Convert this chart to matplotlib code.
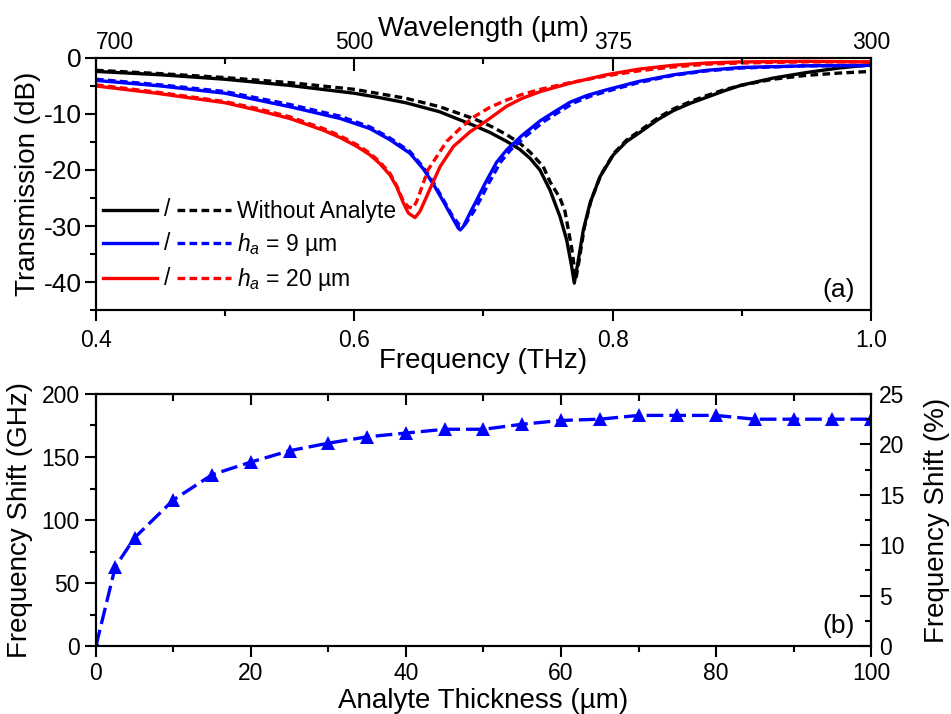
import matplotlib
matplotlib.use('Agg')
import matplotlib.pyplot as plt
from matplotlib.lines import Line2D
from matplotlib.text import Text
from matplotlib.ticker import MultipleLocator

plt.rcParams['font.family'] = ['Liberation Sans', 'DejaVu Sans']
plt.rcParams['mathtext.fontset'] = 'custom'
plt.rcParams['mathtext.rm'] = 'Liberation Sans'
plt.rcParams['mathtext.it'] = 'Liberation Sans:italic'
plt.rcParams['axes.unicode_minus'] = False

# ---- (a) transmission spectra: solid = simulation, dashed = model ----
f_ref = [0.40, 0.45, 0.50, 0.55, 0.60, 0.62, 0.64, 0.666, 0.692, 0.705, 0.718, 0.728, 0.736,
         0.7437, 0.7515, 0.7592, 0.7644, 0.7683, 0.7703, 0.7734, 0.7773, 0.7825, 0.7902, 0.8005,
         0.8108, 0.821, 0.835, 0.847, 0.86, 0.873, 0.886, 0.899, 0.924, 0.95, 0.975, 1.00]
t_ref = [-2.4, -3.0, -3.8, -4.9, -6.3, -7.1, -8.0, -9.6, -12.0, -13.3, -14.9, -16.3, -17.9,
         -20.0, -23.6, -28.3, -32.5, -37.3, -40.2, -36.1, -30.7, -25.9, -21.2, -17.3,
         -14.9, -13.3, -11.0, -9.4, -8.1, -7.0, -5.9, -4.9, -3.6, -2.6, -1.8, -1.2]
f_ref_d = [0.40, 0.45, 0.50, 0.55, 0.60, 0.62, 0.64, 0.666, 0.692, 0.705, 0.718, 0.728, 0.736,
           0.7463, 0.7515, 0.7592, 0.7631, 0.7657, 0.7683, 0.7715, 0.7745, 0.778, 0.7832, 0.791,
           0.801, 0.811, 0.821, 0.835, 0.847, 0.86, 0.873, 0.886, 0.899, 0.924, 0.95, 0.975, 1.00]
t_ref_d = [-2.2, -2.8, -3.5, -4.4, -5.6, -6.4, -7.2, -8.7, -10.8, -12.1, -13.7, -15.2, -16.8,
           -19.4, -22.1, -25.0, -27.4, -30.7, -34.0, -39.5, -35.5, -30.3, -25.5, -20.8,
           -17.0, -14.6, -13.0, -10.7, -9.1, -7.8, -6.7, -5.7, -4.9, -3.8, -3.1, -2.7, -2.4]

f_9 = [0.40, 0.45, 0.50, 0.55, 0.589, 0.612, 0.6276, 0.643, 0.6534, 0.6611, 0.6689, 0.6754,
       0.6805, 0.682, 0.6844, 0.6895, 0.6947, 0.7012, 0.7102, 0.718, 0.73, 0.744, 0.755, 0.767,
       0.78, 0.795, 0.82, 0.847, 0.873, 0.899, 0.95, 1.00]
t_9 = [-4.0, -5.0, -6.3, -8.7, -10.8, -12.6, -14.6, -17.0, -19.8, -22.5, -25.6, -28.3,
       -30.4, -30.7, -30.1, -27.7, -25.4, -22.4, -18.6, -16.4, -13.8, -11.2, -9.6, -7.9,
       -6.7, -5.7, -4.2, -3.0, -2.2, -1.7, -1.4, -1.3]
f_9_d = [0.40, 0.45, 0.50, 0.55, 0.589, 0.612, 0.6276, 0.643, 0.6534, 0.6611, 0.6689, 0.6754,
         0.6815, 0.6855, 0.6925, 0.6977, 0.7042, 0.7132, 0.721, 0.733, 0.747, 0.758, 0.770,
         0.783, 0.798, 0.82, 0.847, 0.873, 0.899, 0.95, 1.00]
t_9_d = [-3.8, -4.8, -6.0, -8.3, -10.4, -12.3, -14.3, -16.7, -19.5, -22.2, -25.3, -28.0,
         -29.9, -29.8, -27.4, -25.2, -22.3, -18.6, -16.4, -13.9, -11.3, -9.7, -8.0,
         -6.8, -5.8, -4.4, -3.1, -2.3, -1.8, -1.4, -1.4]

f_20 = [0.40, 0.447, 0.50, 0.5244, 0.55, 0.576, 0.589, 0.602, 0.6121, 0.6199, 0.6276, 0.6328,
        0.638, 0.6419, 0.647, 0.6508, 0.6547, 0.6599, 0.6664, 0.6767, 0.6895, 0.7012, 0.718,
        0.73, 0.744, 0.767, 0.795, 0.82, 0.847, 0.873, 0.899, 0.95, 1.00]
t_20 = [-5.0, -6.3, -8.0, -9.3, -10.8, -12.9, -14.2, -15.8, -17.3, -18.9, -20.9, -23.0,
        -25.9, -27.7, -28.5, -27.4, -25.4, -22.7, -19.4, -15.8, -13.2, -11.4, -8.6,
        -7.2, -6.0, -4.5, -3.0, -2.0, -1.3, -0.9, -0.7, -0.6, -0.7]
f_20_d = [0.40, 0.447, 0.50, 0.5244, 0.55, 0.576, 0.589, 0.602, 0.6121, 0.6199, 0.6276, 0.6328,
          0.638, 0.6419, 0.6455, 0.6483, 0.651, 0.657, 0.6638, 0.6715, 0.6818, 0.692, 0.705,
          0.718, 0.73, 0.744, 0.767, 0.795, 0.82, 0.847, 0.873, 0.899, 0.95, 1.00]
t_20_d = [-4.8, -6.1, -7.8, -9.0, -10.5, -12.6, -13.9, -15.5, -17.0, -18.6, -20.6, -22.8,
          -25.6, -26.6, -26.8, -25.6, -23.9, -20.0, -17.6, -14.9, -12.6, -10.6, -8.8,
          -7.5, -6.5, -5.6, -4.4, -3.2, -2.3, -1.6, -1.1, -0.9, -0.7, -0.7]

wl_ticks = [0.4, 0.6, 0.8, 1.0]
wl_labels = ['700', '500', '375', '300']

# ---- (b) resonance shift vs analyte thickness ----
thickness = [0, 2.5, 5, 10, 15, 20, 25, 30, 35, 40, 45, 50, 55, 60, 65, 70, 75, 80, 85, 90, 95, 100]
shift_ghz = [0, 63, 86, 116, 136, 146, 155, 161, 166, 169, 172, 172, 176, 179, 180, 183, 183, 183,
             180, 180, 180, 180]
f0_ghz = 800.0  # 200 GHz <-> 25 %

LW = 2.4
DASH = (2.3, 1.3)
LBL = 20
TCK = 16.5


class SolidSlashDashed:
    """legend key: solid line / dashed line"""
    def legend_artist(self, legend, orig_handle, fontsize, handlebox):
        color = orig_handle.get_color()
        x0, y0 = handlebox.xdescent, handlebox.ydescent
        w, h = handlebox.width, handlebox.height
        ym = y0 + h / 2
        solid = Line2D([x0, x0 + 0.42 * w], [ym, ym], color=color, lw=LW)
        dashed = Line2D([x0 + 0.58 * w, x0 + w], [ym, ym], color=color, lw=LW,
                        linestyle=(0, DASH))
        slash = Text(x0 + 0.5 * w, ym, '/', fontsize=fontsize, ha='center', va='center')
        for a in (solid, slash, dashed):
            handlebox.add_artist(a)
        return solid


fig = plt.figure(figsize=(9.51, 7.14), dpi=100)
ax1 = fig.add_axes([0.1009, 0.5658, 0.815, 0.3530])
ax2 = fig.add_axes([0.1009, 0.0952, 0.815, 0.3530])

series = [(f_ref, t_ref, f_ref_d, t_ref_d, 'black', 'Without Analyte'),
          (f_9, t_9, f_9_d, t_9_d, 'blue', r'$h_a$ = 9 µm'),
          (f_20, t_20, f_20_d, t_20_d, 'red', r'$h_a$ = 20 µm')]
handles = []
for fs, ts, fd, td, c, lab in series:
    h, = ax1.plot(fs, ts, color=c, lw=LW, label=lab, solid_joinstyle='round')
    ax1.plot(fd, td, color=c, lw=LW, linestyle=(0, DASH))
    handles.append(h)

ax1.set_xlim(0.4, 1.0)
ax1.set_ylim(-45, 0)
ax1.set_xticks([0.4, 0.6, 0.8, 1.0])
ax1.xaxis.set_minor_locator(MultipleLocator(0.1))
ax1.set_yticks([0, -10, -20, -30, -40])
ax1.yaxis.set_minor_locator(MultipleLocator(5))
ax1.tick_params(which='both', direction='out', width=1.5, top=False, right=False)
ax1.tick_params(which='major', length=8)
ax1.tick_params(which='minor', length=4)
ax1.tick_params(axis='x', labelsize=TCK, pad=6)
ax1.tick_params(axis='y', labelsize=19, pad=2)
ax1.set_xlabel('Frequency (THz)', fontsize=LBL, labelpad=-3)
ax1.set_ylabel('Transmission (dB)', fontsize=LBL, labelpad=2)
ax1.text(0.979, 0.05, '(a)', transform=ax1.transAxes, ha='right', va='baseline', fontsize=19)
ax1.legend(handles=handles, handler_map={Line2D: SolidSlashDashed()}, loc='lower left',
           bbox_to_anchor=(0.0, 0.04), frameon=False, fontsize=TCK, handlelength=5.6,
           handletextpad=0.25, labelspacing=0.35, borderaxespad=0.2, borderpad=0.1)

ax1t = ax1.twiny()
ax1t.set_xlim(ax1.get_xlim())
ax1t.set_xticks(wl_ticks)
ax1t.set_xticklabels(wl_labels)
ax1t.get_xticklabels()[0].set_horizontalalignment('left')
ax1t.xaxis.set_minor_locator(MultipleLocator(0.1))
ax1t.tick_params(which='both', direction='in', width=1.5, labelsize=TCK, pad=3)
ax1t.tick_params(which='major', length=9)
ax1t.tick_params(which='minor', length=4)
ax1t.set_xlabel('Wavelength (µm)', fontsize=LBL, labelpad=-4)

ax2.plot(thickness, shift_ghz, color='blue', lw=LW, linestyle=(0, (5, 1.8)), marker='^',
         markersize=10.5, markeredgewidth=0)
ax2.set_xlim(0, 100)
ax2.set_ylim(0, 200)
ax2.xaxis.set_major_locator(MultipleLocator(20))
ax2.xaxis.set_minor_locator(MultipleLocator(10))
ax2.yaxis.set_major_locator(MultipleLocator(50))
ax2.yaxis.set_minor_locator(MultipleLocator(25))
ax2.tick_params(which='both', direction='out', width=1.5, labelsize=TCK, right=False, top=False)
ax2.tick_params(which='major', length=8)
ax2.tick_params(which='minor', length=4)
ax2.set_xlabel('Analyte Thickness (µm)', fontsize=LBL, labelpad=2)
ax2.set_ylabel('Frequency Shift (GHz)', fontsize=LBL, labelpad=6)
ax2.text(0.979, 0.05, '(b)', transform=ax2.transAxes, ha='right', va='baseline', fontsize=19)

ax2t = ax2.secondary_xaxis('top')
ax2t.xaxis.set_major_locator(MultipleLocator(20))
ax2t.xaxis.set_minor_locator(MultipleLocator(10))
ax2t.tick_params(which='both', direction='in', width=1.5, labeltop=False)
ax2t.tick_params(which='major', length=8)
ax2t.tick_params(which='minor', length=5)

ax2r = ax2.twinx()
ax2r.set_ylim(0, 200 / f0_ghz * 100)
ax2r.yaxis.set_major_locator(MultipleLocator(5))
ax2r.yaxis.set_minor_locator(MultipleLocator(2.5))
ax2r.tick_params(which='both', direction='in', width=1.5, labelsize=TCK, pad=6)
ax2r.tick_params(which='major', length=8)
ax2r.tick_params(which='minor', length=4)
ax2r.set_ylabel('Frequency Shift (%)', fontsize=LBL, labelpad=14)

for a in (ax1, ax1t, ax2, ax2r):
    for s in a.spines.values():
        s.set_linewidth(1.5)
ax2t.spines['top'].set_linewidth(1.5)

fig.savefig('out.png', dpi=100)
